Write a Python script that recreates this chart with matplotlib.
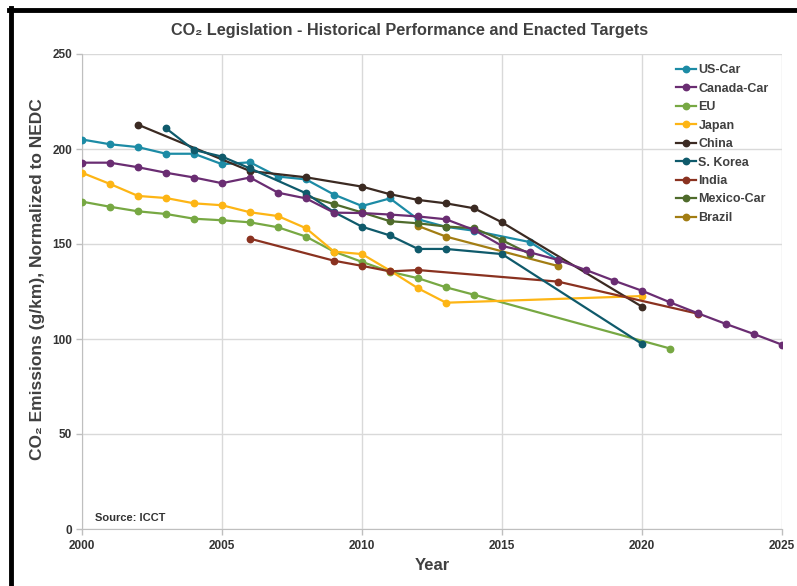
import matplotlib
matplotlib.use("Agg")
import matplotlib.pyplot as plt
from matplotlib.lines import Line2D

plt.rcParams['font.family'] = ['Liberation Sans', 'DejaVu Sans']

# ---- data ----
us_years = [2000, 2001, 2002, 2003, 2004, 2005, 2006, 2007, 2008, 2009, 2010, 2011, 2012, 2013, 2014, 2016, 2017]
us_vals = [205, 202.5, 201, 197.5, 197.5, 192, 193, 185.5, 184, 176, 170, 174, 163, 159, 157, 151, 141.6]

ca_years = [2000, 2001, 2002, 2003, 2004, 2005, 2006, 2007, 2008, 2009, 2010, 2011, 2012, 2013, 2014, 2015, 2016,
            2017, 2018, 2019, 2020, 2021, 2022, 2023, 2024, 2025]
ca_vals = [192.8, 192.8, 190.4, 187.5, 185, 182, 185, 177, 174, 166.5, 166.3, 165.5, 164.5, 163, 157.4, 149, 145.6,
           141.6, 136.3, 130.7, 125.4, 119.3, 113.5, 107.9, 102.6, 97]

eu_years = [2000, 2001, 2002, 2003, 2004, 2005, 2006, 2007, 2008, 2009, 2010, 2011, 2012, 2013, 2014, 2021]
eu_vals = [172.3, 169.6, 167.2, 165.8, 163.3, 162.5, 161.4, 158.8, 153.9, 146, 140.6, 135.4, 132, 127.2, 123.3, 95]

jp_years = [2000, 2001, 2002, 2003, 2004, 2005, 2006, 2007, 2008, 2009, 2010, 2011, 2012, 2013, 2020]
jp_vals = [187.5, 181.6, 175.3, 174.2, 171.4, 170.4, 166.7, 164.7, 158.3, 146, 144.7, 136, 126.7, 119.1, 122.6]

cn_years = [2002, 2006, 2008, 2010, 2011, 2012, 2013, 2014, 2015, 2020]
cn_vals = [212.8, 188.4, 185.1, 180.2, 176.2, 173.2, 171.4, 168.8, 161.4, 117]

kr_years = [2003, 2004, 2005, 2006, 2008, 2009, 2010, 2011, 2012, 2013, 2015, 2020]
kr_vals = [210.9, 199.5, 196, 189.8, 176.7, 166.8, 159.1, 154.5, 147.4, 147.4, 144.7, 97.4]

in_years = [2006, 2009, 2010, 2011, 2012, 2017, 2022]
in_vals = [152.8, 141.2, 138.5, 135.6, 136.3, 130.2, 113.3]

mx_years = [2008, 2009, 2010, 2011, 2012, 2013, 2014, 2015, 2016]
mx_vals = [175.3, 171, 166.6, 162, 160.9, 159.2, 158.3, 152, 144.7]

br_years = [2012, 2013, 2017]
br_vals = [159.5, 153.9, 138.4]

series = [
    ("US-Car", us_years, us_vals, "#1c8ba5"),
    ("Canada-Car", ca_years, ca_vals, "#6a2d72"),
    ("EU", eu_years, eu_vals, "#77a843"),
    ("Japan", jp_years, jp_vals, "#fdb515"),
    ("China", cn_years, cn_vals, "#3b2a22"),
    ("S. Korea", kr_years, kr_vals, "#0f5a6b"),
    ("India", in_years, in_vals, "#8a3220"),
    ("Mexico-Car", mx_years, mx_vals, "#4f6b2b"),
    ("Brazil", br_years, br_vals, "#a27d13"),
]

x_ticks = [2000, 2005, 2010, 2015, 2020, 2025]
y_ticks = [0, 50, 100, 150, 200, 250]

# ---- figure ----
W, H = 797, 586
fig = plt.figure(figsize=(W / 100, H / 100), dpi=100)
ax = fig.add_axes([82 / W, 1 - 529 / H, 700 / W, 475 / H])

z = {"US-Car": 3, "Canada-Car": 4, "EU": 3, "Japan": 3, "China": 3, "S. Korea": 3.5, "India": 3,
     "Mexico-Car": 3.2, "Brazil": 3.1}
for name, xs, ys, c in series:
    ax.plot(xs, ys, color=c, lw=1.6, marker='o', ms=4.6, mec=c, mfc=c, label=name, zorder=z[name])

ax.set_xlim(2000, 2025)
ax.set_ylim(0, 250)
ax.set_xticks(x_ticks)
ax.set_yticks(y_ticks)
ax.grid(True, color='#d9d9d9', lw=1.0)
ax.set_axisbelow(True)
for s in ['top', 'right']:
    ax.spines[s].set_visible(False)
for s in ['left', 'bottom']:
    ax.spines[s].set_color('#bfbfbf')
ax.tick_params(axis='both', colors='#bfbfbf', length=4, width=1, labelcolor='#333333', labelsize=8.5)
for lab in ax.get_xticklabels() + ax.get_yticklabels():
    lab.set_fontweight('bold')
ax.tick_params(axis='x', pad=4)
ax.tick_params(axis='y', pad=3)

fig.text(410 / W, 1 - 31 / H, "CO₂ Legislation - Historical Performance and Enacted Targets",
         ha='center', va='center', fontsize=11.7, fontweight='bold', color='#404040')
fig.text(38 / W, 1 - 279 / H, "CO₂ Emissions (g/km), Normalized to NEDC", rotation=90,
         ha='center', va='center', fontsize=12.5, fontweight='bold', color='#404040')
fig.text(432 / W, 1 - 565 / H, "Year", ha='center', va='center', fontsize=12, fontweight='bold', color='#404040')
ax.text(2000.45, 3.0, "Source: ICCT", fontsize=8, fontweight='bold', color='#333333', va='bottom', ha='left')

leg = ax.legend(loc='upper left', bbox_to_anchor=(676 / W, 1 - 64 / H), bbox_transform=fig.transFigure,
                frameon=False, fontsize=9, handlelength=1.6, handletextpad=0.2, labelspacing=0.52,
                borderaxespad=0, borderpad=0)
for t in leg.get_texts():
    t.set_fontweight('bold')
    t.set_color('#404040')

# black frame (top & left)
fig.add_artist(Line2D([11 / W, 11 / W], [0, 1 - 8 / H], transform=fig.transFigure, color='black', lw=3.5))
fig.add_artist(Line2D([9 / W, 1], [1 - 10 / H, 1 - 10 / H], transform=fig.transFigure, color='black', lw=3.5))

fig.savefig("out.png", dpi=100)
